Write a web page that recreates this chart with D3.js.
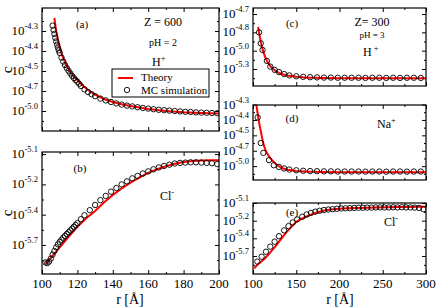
<!DOCTYPE html>
<html>
<head>
<meta charset="utf-8">
<script src="https://cdn.jsdelivr.net/npm/d3@7"></script>
<style>
  body { margin: 0; background: #fff; }
  svg { display: block; }
</style>
</head>
<body>
<div id="chart"></div>
<script>
// ---- tick labels (y axes are drawn in "tick units": 0 = lowest labelled tick) ----
const xTicksLeft = [100, 120, 140, 160, 180, 200];
const xMinorLeft = [110, 130, 150, 170, 190];
const xTicksRight = [100, 150, 200, 250, 300];
const xMinorRight = [125, 175, 225, 275];

const yLabelsA = ["-5.0", "-4.7", "-4.5", "-4.4", "-4.3"];
const yLabelsB = ["-5.7", "-5.4", "-5.2", "-5.1"];
const yLabelsC = ["-5.3", "-5.0", "-4.8", "-4.7"];
const yLabelsD = ["-5.0", "-4.7", "-4.5", "-4.4", "-4.3"];
const yLabelsE = ["-5.7", "-5.4", "-5.2", "-5.1"];

// ---- (a) H+, Z = 600, pH = 2 ----
const aTheoryR = [107, 107.5, 108, 109, 110, 111, 112, 114, 116, 118, 120, 123, 126, 130, 135, 140, 145, 150, 160, 170, 180, 190, 200];
const aTheoryC = [4.65, 4.3, 4.0, 3.55, 3.2, 2.9, 2.65, 2.25, 1.95, 1.72, 1.55, 1.28, 1.05, 0.82, 0.6, 0.45, 0.34, 0.25, 0.1, 0.0, -0.06, -0.1, -0.13];
const aMcR = [106, 106.5, 107, 107.5, 108, 108.5, 109, 109.5, 110, 111, 112, 113, 114, 115, 116, 117, 118, 119, 120, 121, 122, 124, 126, 128, 130, 133, 136, 139, 142, 145, 148, 151, 154, 157, 160, 163, 166, 169, 172, 175, 178, 181, 184, 187, 190, 193, 196, 199];
const aMcC = [4.27, 4.05, 3.85, 3.66, 3.48, 3.32, 3.17, 3.03, 2.9, 2.67, 2.47, 2.3, 2.15, 2.01, 1.88, 1.76, 1.65, 1.55, 1.46, 1.36, 1.25, 1.08, 0.95, 0.84, 0.74, 0.62, 0.53, 0.45, 0.38, 0.32, 0.27, 0.23, 0.19, 0.15, 0.12, 0.09, 0.06, 0.04, 0.02, 0.0, -0.02, -0.04, -0.05, -0.07, -0.08, -0.09, -0.1, -0.11];

// ---- (b) Cl-, Z = 600 ----
const bTheoryR = [102, 104, 106, 108, 110, 115, 120, 125, 130, 135, 140, 145, 150, 155, 160, 165, 170, 175, 180, 185, 190, 195, 200];
const bTheoryC = [-0.62, -0.5, -0.36, -0.22, -0.08, 0.27, 0.6, 0.88, 1.12, 1.4, 1.65, 1.87, 2.06, 2.22, 2.38, 2.5, 2.6, 2.68, 2.74, 2.77, 2.79, 2.8, 2.8];
const bMcR = [102, 103, 104, 105, 106, 107, 108, 109, 110, 111, 112, 113, 114, 115, 116, 117, 118, 119, 120, 122, 124, 127, 130, 133, 136, 139, 142, 145, 148, 151, 154, 157, 160, 163, 166, 169, 172, 175, 178, 181, 184, 187, 190, 193, 196, 199];
const bMcC = [-0.58, -0.6, -0.55, -0.45, -0.32, -0.2, -0.08, 0.02, 0.1, 0.17, 0.24, 0.3, 0.36, 0.42, 0.48, 0.54, 0.6, 0.66, 0.72, 0.85, 0.98, 1.15, 1.32, 1.48, 1.62, 1.76, 1.88, 2.0, 2.1, 2.2, 2.28, 2.36, 2.43, 2.5, 2.56, 2.61, 2.65, 2.69, 2.71, 2.72, 2.73, 2.73, 2.72, 2.71, 2.7, 2.67];

// ---- (c) H+, Z = 300, pH = 3 ----
const cTheoryR = [106, 107, 108, 109, 110, 112, 114, 116, 118, 120, 123, 126, 130, 135, 140, 150, 160, 180, 200, 250, 300];
const cTheoryC = [2.3, 2.0, 1.72, 1.48, 1.27, 0.93, 0.66, 0.45, 0.29, 0.16, 0.01, -0.1, -0.21, -0.3, -0.36, -0.43, -0.46, -0.49, -0.5, -0.51, -0.51];
const cMcR = [107, 109, 111, 116, 120, 125, 130, 136, 142, 150, 158, 166, 174, 182, 190, 198, 206, 214, 222, 230, 238, 246, 254, 262, 270, 278, 286, 294];
const cMcC = [2.0, 1.4, 1.04, 0.44, 0.13, -0.05, -0.17, -0.28, -0.35, -0.4, -0.43, -0.45, -0.46, -0.47, -0.47, -0.48, -0.48, -0.48, -0.48, -0.49, -0.48, -0.48, -0.49, -0.48, -0.49, -0.48, -0.48, -0.49];

// ---- (d) Na+ ----
const dTheoryR = [104, 105, 106, 107, 108, 110, 112, 114, 116, 118, 120, 123, 126, 130, 135, 140, 150, 160, 180, 200, 250, 300];
const dTheoryC = [3.95, 3.55, 3.2, 2.85, 2.55, 1.98, 1.46, 1.1, 0.85, 0.68, 0.52, 0.33, 0.15, -0.02, -0.15, -0.23, -0.31, -0.35, -0.38, -0.39, -0.4, -0.4];
const dMcR = [105.4, 109, 112, 118.5, 124, 130, 136, 142, 150, 158, 166, 174, 182, 190, 198, 206, 214, 222, 230, 238, 246, 254, 262, 270, 278, 286, 294];
const dMcC = [3.16, 1.5, 0.86, 0.39, 0.06, -0.05, -0.15, -0.22, -0.27, -0.3, -0.32, -0.33, -0.34, -0.34, -0.35, -0.35, -0.35, -0.35, -0.36, -0.35, -0.35, -0.36, -0.35, -0.35, -0.36, -0.35, -0.35];

// ---- (e) Cl-, Z = 300 ----
const eTheoryR = [101.5, 105, 110, 114, 120, 127, 133, 139, 145, 150, 158, 166, 173, 181, 190, 204, 220, 243, 270, 297, 300];
const eTheoryC = [-0.7, -0.5, -0.3, -0.13, 0.2, 0.62, 1.0, 1.37, 1.68, 1.94, 2.15, 2.32, 2.45, 2.56, 2.63, 2.69, 2.72, 2.75, 2.77, 2.79, 2.79];
const eMcR = [105, 110, 115, 120, 125, 130, 136, 141, 146, 151, 157, 162, 167, 172, 177, 182, 187, 192, 197, 202, 207, 212, 217, 222, 227, 232, 237, 242, 247, 252, 257, 262, 267, 272, 277, 282, 287, 292, 297];
const eMcC = [-0.32, -0.04, 0.24, 0.53, 0.81, 1.12, 1.45, 1.69, 1.9, 2.07, 2.22, 2.35, 2.44, 2.51, 2.56, 2.6, 2.63, 2.65, 2.67, 2.69, 2.7, 2.71, 2.72, 2.73, 2.73, 2.74, 2.74, 2.75, 2.75, 2.75, 2.75, 2.76, 2.75, 2.76, 2.75, 2.75, 2.74, 2.72, 2.65];

const FONT = "'Liberation Serif', 'DejaVu Serif', serif";
const RED = "#ff0000";

const svg = d3.select("#chart").append("svg")
  .attr("width", 436)
  .attr("height", 308)
  .attr("font-family", FONT);

let clipId = 0;

function drawPanel(p) {
  const x = d3.scaleLinear().domain(p.xDomain).range([p.left, p.right]);
  const y = d3.scaleLinear().domain(p.yDomain).range([p.bottom, p.top]);
  const g = svg.append("g");

  const id = "clip" + (clipId++);
  svg.append("clipPath").attr("id", id)
    .append("rect")
    .attr("x", p.left).attr("y", p.top)
    .attr("width", p.right - p.left).attr("height", p.bottom - p.top);

  // x ticks, inward, bottom and top
  [[p.xMajor, 4], [p.xMinor, 2]].forEach(([vals, len]) => {
    g.append("g").attr("transform", `translate(0,${p.bottom})`)
      .call(d3.axisBottom(x).tickValues(vals).tickSize(-len).tickFormat(""))
      .call(a => a.select(".domain").remove());
    g.append("g").attr("transform", `translate(0,${p.top})`)
      .call(d3.axisTop(x).tickValues(vals).tickSize(-len).tickFormat(""))
      .call(a => a.select(".domain").remove());
  });

  // y ticks, inward, left and right
  const yMajor = d3.range(p.yLabels.length);
  const yMinor = d3.range(Math.floor(p.yDomain[0]), Math.ceil(p.yDomain[1]))
    .map(v => v + 0.5)
    .filter(v => v > p.yDomain[0] && v < p.yDomain[1]);
  [[yMajor, 4], [yMinor, 2]].forEach(([vals, len]) => {
    g.append("g").attr("transform", `translate(${p.left},0)`)
      .call(d3.axisLeft(y).tickValues(vals).tickSize(-len).tickFormat(""))
      .call(a => a.select(".domain").remove());
    g.append("g").attr("transform", `translate(${p.right},0)`)
      .call(d3.axisRight(y).tickValues(vals).tickSize(-len).tickFormat(""))
      .call(a => a.select(".domain").remove());
  });
  g.selectAll(".tick line").attr("stroke", "#000").attr("stroke-width", 1);

  // y tick labels 10^exp
  const yl = g.append("g").selectAll("text")
    .data(p.yLabels)
    .join("text")
    .attr("x", p.left - 4)
    .attr("y", (d, i) => y(i) + 4)
    .attr("text-anchor", "end")
    .attr("font-family", FONT)
    .attr("font-size", 13);
  yl.append("tspan").text("10");
  yl.append("tspan").attr("dy", -6).attr("font-size", 8.5).text(d => d);

  // x tick labels
  if (p.xLabels) {
    g.append("g").selectAll("text")
      .data(p.xMajor)
      .join("text")
      .attr("x", d => x(d))
      .attr("y", p.bottom + 14)
      .attr("text-anchor", "middle")
      .attr("font-family", FONT)
      .attr("font-size", 13)
      .text(d => d);
  }

  // theory curve
  const line = d3.line().x(d => x(d[0])).y(d => y(d[1]));
  const tdata = p.theoryR.map((r, i) => [r, p.theoryC[i]]);
  g.append("path")
    .attr("clip-path", `url(#${id})`)
    .attr("d", line(tdata))
    .attr("fill", "none")
    .attr("stroke", RED)
    .attr("stroke-width", 2);

  // MC simulation circles
  g.append("g").attr("clip-path", `url(#${id})`)
    .selectAll("circle")
    .data(p.mcR.map((r, i) => [r, p.mcC[i]]))
    .join("circle")
    .attr("cx", d => x(d[0]))
    .attr("cy", d => y(d[1]))
    .attr("r", 2.7)
    .attr("fill", "none")
    .attr("stroke", "#000")
    .attr("stroke-width", 0.9);

  // frame
  g.append("rect")
    .attr("x", p.left).attr("y", p.top)
    .attr("width", p.right - p.left).attr("height", p.bottom - p.top)
    .attr("fill", "none")
    .attr("stroke", "#000")
    .attr("stroke-width", 1.2);

  return { x, y, g };
}

function label(x, y, main, sup, size, anchor) {
  const t = svg.append("text")
    .attr("x", x).attr("y", y)
    .attr("font-family", FONT)
    .attr("font-size", size)
    .attr("text-anchor", anchor || "start");
  t.append("tspan").text(main);
  if (sup) t.append("tspan").attr("dy", -5).attr("font-size", size * 0.7).text(sup);
  return t;
}

// left column
drawPanel({ left: 42, right: 219, top: 8, bottom: 131, xDomain: [100, 200], yDomain: [-1, 5.15],
  xMajor: xTicksLeft, xMinor: xMinorLeft, yLabels: yLabelsA, xLabels: false,
  theoryR: aTheoryR, theoryC: aTheoryC, mcR: aMcR, mcC: aMcC });
drawPanel({ left: 42, right: 219, top: 152, bottom: 274, xDomain: [100, 200], yDomain: [-0.96, 3.07],
  xMajor: xTicksLeft, xMinor: xMinorLeft, yLabels: yLabelsB, xLabels: true,
  theoryR: bTheoryR, theoryC: bTheoryC, mcR: bMcR, mcC: bMcC });

// right column
drawPanel({ left: 253, right: 426, top: 8, bottom: 86, xDomain: [100, 300], yDomain: [-0.93, 3.33],
  xMajor: xTicksRight, xMinor: xMinorRight, yLabels: yLabelsC, xLabels: false,
  theoryR: cTheoryR, theoryC: cTheoryC, mcR: cMcR, mcC: cMcC });
drawPanel({ left: 253, right: 426, top: 105, bottom: 180, xDomain: [100, 300], yDomain: [-0.9, 3.97],
  xMajor: xTicksRight, xMinor: xMinorRight, yLabels: yLabelsD, xLabels: false,
  theoryR: dTheoryR, theoryC: dTheoryC, mcR: dMcR, mcC: dMcC });
drawPanel({ left: 253, right: 426, top: 203, bottom: 274, xDomain: [100, 300], yDomain: [-1.02, 3.0],
  xMajor: xTicksRight, xMinor: xMinorRight, yLabels: yLabelsE, xLabels: true,
  theoryR: eTheoryR, theoryC: eTheoryC, mcR: eMcR, mcC: eMcC });

// axis titles
svg.append("text").attr("transform", "translate(12,70) rotate(-90)")
  .attr("text-anchor", "middle").attr("font-family", FONT).attr("font-size", 15).text("c");
svg.append("text").attr("transform", "translate(12,213) rotate(-90)")
  .attr("text-anchor", "middle").attr("font-family", FONT).attr("font-size", 15).text("c");
svg.append("text").attr("x", 130).attr("y", 304).attr("text-anchor", "middle")
  .attr("font-family", FONT).attr("font-size", 14).text("r [Å]");
svg.append("text").attr("x", 340).attr("y", 304).attr("text-anchor", "middle")
  .attr("font-family", FONT).attr("font-size", 14).text("r [Å]");

// panel annotations
label(82, 28, "(a)", null, 11, "middle");
label(163, 26, "Z = 600", null, 12, "middle");
label(163, 46, "pH = 2", null, 10, "middle");
label(152, 66, "H", "+", 12);
label(80, 172, "(b)", null, 11, "middle");
label(160, 200, "Cl", "-", 12);
label(292, 27, "(c)", null, 11, "middle");
label(372, 26, "Z= 300", null, 12, "middle");
label(372, 38, "pH = 3", null, 9, "middle");
label(363, 56, "H", " +", 12);
label(292, 122, "(d)", null, 11, "middle");
label(377, 128, "Na", "+", 12);
label(292, 216, "(e)", null, 11, "middle");
label(384, 226, "Cl", "-", 12);

// legend in (a)
const leg = svg.append("g");
leg.append("rect").attr("x", 112).attr("y", 69).attr("width", 97).attr("height", 28)
  .attr("fill", "#fff").attr("stroke", "#000").attr("stroke-width", 1);
leg.append("line").attr("x1", 118).attr("x2", 133).attr("y1", 78).attr("y2", 78)
  .attr("stroke", RED).attr("stroke-width", 2);
leg.append("text").attr("x", 141).attr("y", 81).attr("font-family", FONT).attr("font-size", 11).text("Theory");
leg.append("circle").attr("cx", 127).attr("cy", 90).attr("r", 2.7)
  .attr("fill", "none").attr("stroke", "#000").attr("stroke-width", 0.9);
leg.append("text").attr("x", 141).attr("y", 94).attr("font-family", FONT).attr("font-size", 11).text("MC simulation");
</script>
</body>
</html>
